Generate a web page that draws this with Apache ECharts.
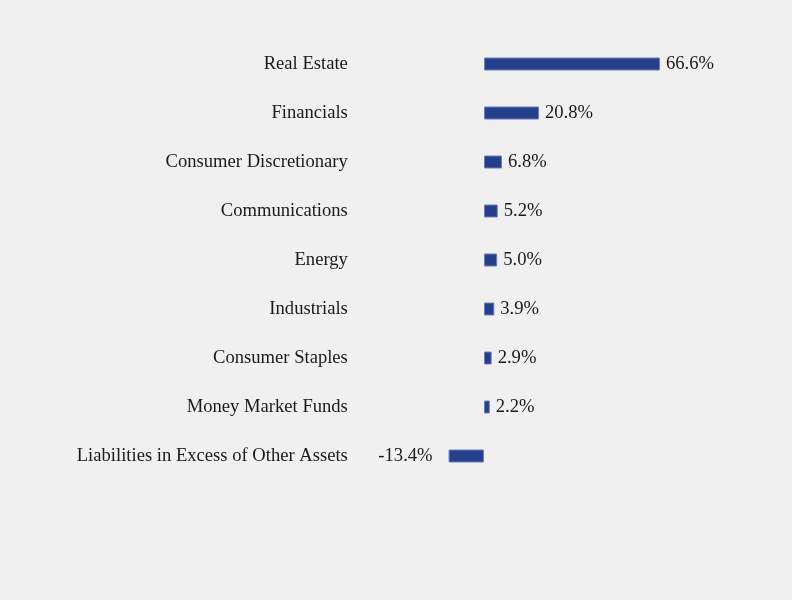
<!DOCTYPE html>
<html><head><meta charset="utf-8">
<script src="https://cdn.jsdelivr.net/npm/echarts@6/dist/echarts.min.js"></script>
<style>html,body{margin:0;padding:0;background:#f0f0f0;}#c{width:792px;height:600px;}</style>
</head><body><div id="c"></div>
<script>
const categories = ["Real Estate","Financials","Consumer Discretionary","Communications","Energy","Industrials","Consumer Staples","Money Market Funds","Liabilities in Excess of Other Assets"];
const values = [66.6,20.8,6.8,5.2,5.0,3.9,2.9,2.2,-13.4];

const chart = echarts.init(document.getElementById('c'));
chart.setOption({
  backgroundColor: '#f0f0f0',
  animation: false,
  grid: {left: 351.85, right: 43.7, top: 39.5, bottom: 119.5, containLabel: false},
  xAxis: {type: 'value', min: -50, max: 100, show: false},
  yAxis: {type: 'category', data: categories, inverse: true,
    axisLine: {show: false}, axisTick: {show: false}, splitLine: {show: false},
    axisLabel: {margin: 4, fontFamily: 'Liberation Serif', fontSize: 18.6, color: '#1a1a1a'}},
  series: [{type: 'bar', barWidth: 13,
    data: values.map(v => v < 0 ? {value: v, label: {position: 'left', distance: 16}} : v),
    itemStyle: {color: '#263f8a', borderColor: '#6a7fbf', borderWidth: 1},
    label: {show: true, position: 'right', distance: 6, fontFamily: 'Liberation Serif', fontSize: 18.6, color: '#1a1a1a',
      formatter: p => p.value.toFixed(1) + '%'}
  }]
});
</script></body></html>
